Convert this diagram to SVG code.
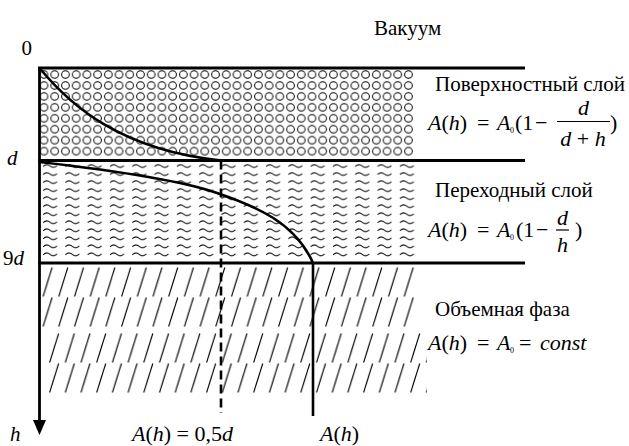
<svg xmlns="http://www.w3.org/2000/svg" width="629" height="446" viewBox="0 0 629 446">
<style>
text{font-family:"Liberation Serif","Times New Roman",serif;fill:#000}
.lbl{font-size:21px}
.f{font-size:22px}
.i{font-style:italic}
.sub{font-size:8px}
.thick{stroke:#000;stroke-width:2.8;fill:none}
.curve{stroke:#000;stroke-width:2.6;fill:none}
.bar{stroke:#000;stroke-width:1.2}
</style>
<defs>
<pattern id="circ" patternUnits="userSpaceOnUse" x="38.64" y="69.03" width="10.72" height="10.95">
<circle cx="5.36" cy="5.47" r="3.8" fill="none" stroke="#000" stroke-width="1"/>
</pattern>
<pattern id="wave" patternUnits="userSpaceOnUse" x="43" y="163" width="22.3" height="8.03">
<path d="M0,3.5 Q3.5,0 7,3 T14,2.5" fill="none" stroke="#000" stroke-width="1"/>
</pattern>
<pattern id="hatchA" patternUnits="userSpaceOnUse" x="42.5" y="267" width="15.7" height="30">
<line x1="0.6" y1="29.5" x2="9.6" y2="0.5" stroke="#000" stroke-width="1.1"/>
</pattern>
<pattern id="hatchB" patternUnits="userSpaceOnUse" x="49" y="333" width="15.7" height="30">
<line x1="0.6" y1="29.5" x2="9.6" y2="0.5" stroke="#000" stroke-width="1.1"/>
</pattern>
</defs>
<rect width="629" height="446" fill="#fff"/>

<g id="layers-fill">
<rect x="38.64" y="69.03" width="375.2" height="87.6" fill="url(#circ)"/>
<rect x="40" y="163" width="376" height="96.4" fill="url(#wave)"/>
<rect x="41" y="267" width="378" height="60" fill="url(#hatchA)"/>
<rect x="47" y="333" width="380" height="60" fill="url(#hatchB)"/>
</g>

<g id="boundaries">
<line class="thick" x1="38" y1="68" x2="525" y2="68"/>
<line class="thick" x1="38" y1="160.5" x2="525" y2="160.5"/>
<line class="thick" x1="38" y1="263" x2="525" y2="263"/>
</g>

<g id="vacuum">
<text class="lbl" x="374" y="35">Вакуум</text>
</g>

<g id="surface-layer">
<text class="lbl" x="435" y="91">Поверхностный слой</text>
<text class="f" y="130"><tspan x="428" class="i">A</tspan>(<tspan class="i">h</tspan>)<tspan x="477">=</tspan><tspan x="497" class="i">A</tspan></text>
<text class="sub" x="510" y="133">0</text>
<text class="f" x="515" y="130">(1</text>
<text class="f" x="535" y="130">−</text>
<text class="f i" x="583.5" y="115" text-anchor="middle">d</text>
<line class="bar" x1="557" y1="121.5" x2="610" y2="121.5"/>
<text class="f" x="583" y="146" text-anchor="middle"><tspan class="i">d</tspan> + <tspan class="i">h</tspan></text>
<text class="f" x="610" y="130">)</text>
</g>

<g id="transition-layer">
<text class="lbl" x="435" y="197">Переходный слой</text>
<text class="f" y="237"><tspan x="428" class="i">A</tspan>(<tspan class="i">h</tspan>)<tspan x="477">=</tspan><tspan x="497" class="i">A</tspan></text>
<text class="sub" x="510" y="240">0</text>
<text class="f" x="516" y="237">(1</text>
<text class="f" x="536" y="237">−</text>
<text class="f i" x="562.5" y="225" text-anchor="middle">d</text>
<line class="bar" x1="556" y1="230" x2="569" y2="230"/>
<text class="f i" x="562.5" y="252" text-anchor="middle">h</text>
<text class="f" x="575" y="237">)</text>
</g>

<g id="bulk-phase">
<text class="lbl" x="435" y="316">Объемная фаза</text>
<text class="f" y="350"><tspan x="428" class="i">A</tspan>(<tspan class="i">h</tspan>)<tspan x="477">=</tspan><tspan x="497" class="i">A</tspan></text>
<text class="sub" x="510" y="353">0</text>
<text class="f" x="519" y="350">=</text>
<text class="f i" x="540" y="350">const</text>
</g>

<g id="axis">
<line class="thick" x1="39.5" y1="67" x2="39.5" y2="422"/>
<polygon points="33,420 46,420 39.5,435" fill="#000"/>
<text class="lbl" x="21.5" y="55">0</text>
<text class="lbl i" x="7" y="165">d</text>
<text class="lbl" x="24" y="265" text-anchor="end">9<tspan class="i">d</tspan></text>
<text class="lbl i" x="10" y="441">h</text>
</g>

<g id="bottom-labels">
<text class="f" x="132" y="441"><tspan class="i">A</tspan>(<tspan class="i">h</tspan>) = 0,5<tspan class="i">d</tspan></text>
<text class="f" x="320" y="441"><tspan class="i">A</tspan>(<tspan class="i">h</tspan>)</text>
</g>

<g id="connectors">
<path class="curve" d="M39.5,68 C70,105 120,150 221,160.5"/>
<line class="curve" x1="221" y1="160.5" x2="221" y2="413" stroke-dasharray="9 5"/>
<path class="curve" d="M39.5,162 C110,170 180,180 217,193 C255,206 295,222 313,263 L313,416"/>
</g>
</svg>
